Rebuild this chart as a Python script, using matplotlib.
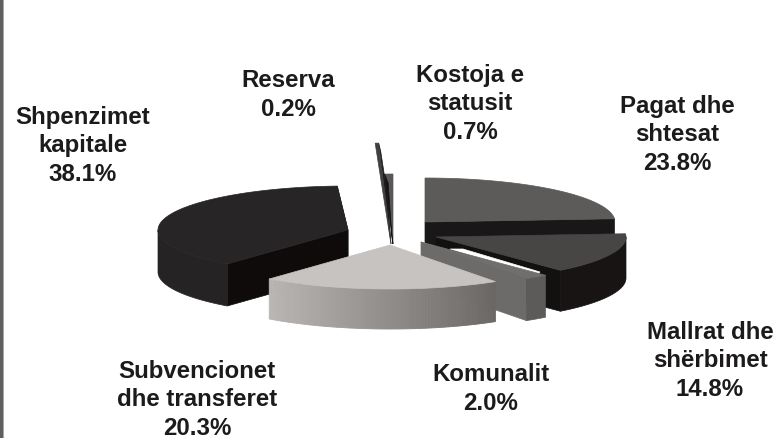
import numpy as np
import matplotlib
matplotlib.use("Agg")
import matplotlib.pyplot as plt
from matplotlib.patches import Polygon, Rectangle

# Data, clockwise from 12 o'clock
names = ["Pagat dhe\nshtesat", "Mallrat dhe\nshërbimet", "Komunalit",
         "Subvencionet\ndhe transferet", "Shpenzimet\nkapitale", "Reserva",
         "Kostoja e\nstatusit"]
values = [23.8, 14.8, 2.0, 20.3, 38.1, 0.2, 0.7]

# Layout / style per slice (exploded centre in px, radii, wall height, colours)
centers = [(425, 223), (436, 238), (421, 243), (390, 246), (348, 231), (391, 245), (393, 245)]
radii = [(190, 44), (190, 44), (190, 44), (190, 44), (190, 44), (280, 101), (190, 70)]
heights = [40, 41, 42, 40, 42, 0, 0]
top_cols = ["#5d5a5a", "#484545", "#716e6e", "#c6c3c1", "#282526", "#423f3f", "#5a5757"]
outer_cols = ["#1a1718", "#181414", "#5d5a5a", None, "#262324", None, None]
radial_cols = ["#1a1718", "#131010", "#6d6a6a", None, "#0f0b0b", "#1c1a1a", "#141212"]
label_pos = [(677, 135), (710, 361), (491, 389), (197, 400), (83, 146), (288, 95), (470, 104)]
draw_order = [6, 5, 0, 4, 1, 2, 3]

fig = plt.figure(figsize=(7.8, 4.39), dpi=100)
ax = fig.add_axes([0, 0, 1, 1])
ax.set_xlim(0, 780)
ax.set_ylim(439, 0)
ax.axis("off")


def pts(c, r, a):
    a = np.radians(a)
    return np.column_stack([c[0] + r[0] * np.sin(a), c[1] - r[1] * np.cos(a)])


fr = np.array(values) / sum(values) * 360
ends = np.cumsum(fr)
starts = ends - fr


def poly(p, col, z):
    ax.add_patch(Polygon(p, closed=True, facecolor=col, edgecolor=col, linewidth=0.5, zorder=z))


def radial_wall(c, r, ang, h, col, z):
    e = pts(c, r, [ang])[0]
    poly([c, e, (e[0], e[1] + h), (c[0], c[1] + h)], col, z)


GRAD_L = np.array(matplotlib.colors.to_rgb("#b9b6b3"))
GRAD_R = np.array(matplotlib.colors.to_rgb("#6a6764"))

for z, i in enumerate(draw_order):
    c, r, h = centers[i], radii[i], heights[i]
    a0, a1 = starts[i], ends[i]
    arc = pts(c, r, np.linspace(a0, a1, 120))
    base = 10 * z
    # radial walls facing the viewer
    if i in (0, 1, 2):
        radial_wall(c, r, a1, h, radial_cols[i], base)
    if i == 4:
        radial_wall(c, r, a0, h, radial_cols[i], base)
        radial_wall(c, r, a1, h, radial_cols[i], base)
    # outer curved wall on the part of the rim facing the viewer
    lo, hi = max(a0, 90), min(a1, 270)
    if lo < hi and h > 0:
        rim = pts(c, r, np.linspace(lo, hi, 80))
        if i == 3:
            xmin, xmax = rim[:, 0].min(), rim[:, 0].max()
            for j in range(len(rim) - 1):
                t = ((rim[j, 0] + rim[j + 1, 0]) / 2 - xmin) / (xmax - xmin)
                col = GRAD_L + (GRAD_R - GRAD_L) * t
                q = [rim[j], rim[j + 1], rim[j + 1] + [0, h], rim[j] + [0, h]]
                ax.add_patch(Polygon(q, closed=True, facecolor=col, edgecolor=col,
                                     linewidth=0.6, zorder=base + 1))
        else:
            poly(np.vstack([rim, rim[::-1] + [0, h]]), outer_cols[i], base + 1)
    # white sliver between Mallrat and Komunalit
    if i == 2:
        poly([(c[0] + 29, c[1] + 7), (c[0] + 115, c[1] + 33),
              (c[0] + 119, c[1] + 30), (c[0] + 42, c[1] + 7)], "#ffffff", base + 1.5)
    # dark inner strip of the thin Reserva slice
    if i == 5:
        e = pts(c, r, [a1])[0]
        poly([c, e, e + [2, 8], (c[0] - 3, c[1] - 45)], radial_cols[i], base + 1)
    # top face
    poly(np.vstack([[c], arc]), top_cols[i], base + 2)
    # dark inner strip of the thin Kostoja slice
    if i == 6:
        e = pts(c, r, [a0])[0]
        poly([c, e, e + [3.5, 9], (c[0] - 1, c[1] - 6)], radial_cols[i], base + 3)

# Frame strip on the left edge
ax.add_patch(Rectangle((0, 0), 2.6, 439, facecolor="#5f5f5f", edgecolor="none", zorder=200))
ax.add_patch(Rectangle((2.6, 0), 1, 439, facecolor="#a8a8a8", edgecolor="none", zorder=200))

# Labels
for name, v, p in zip(names, values, label_pos):
    ax.text(p[0], p[1], f"{name}\n{v:.1f}%", ha="center", va="center", ma="center",
            family="Liberation Sans", weight="bold", fontsize=17.3, color="#1c1a1a",
            linespacing=1.29, zorder=300)

fig.savefig("out.png", dpi=100)
